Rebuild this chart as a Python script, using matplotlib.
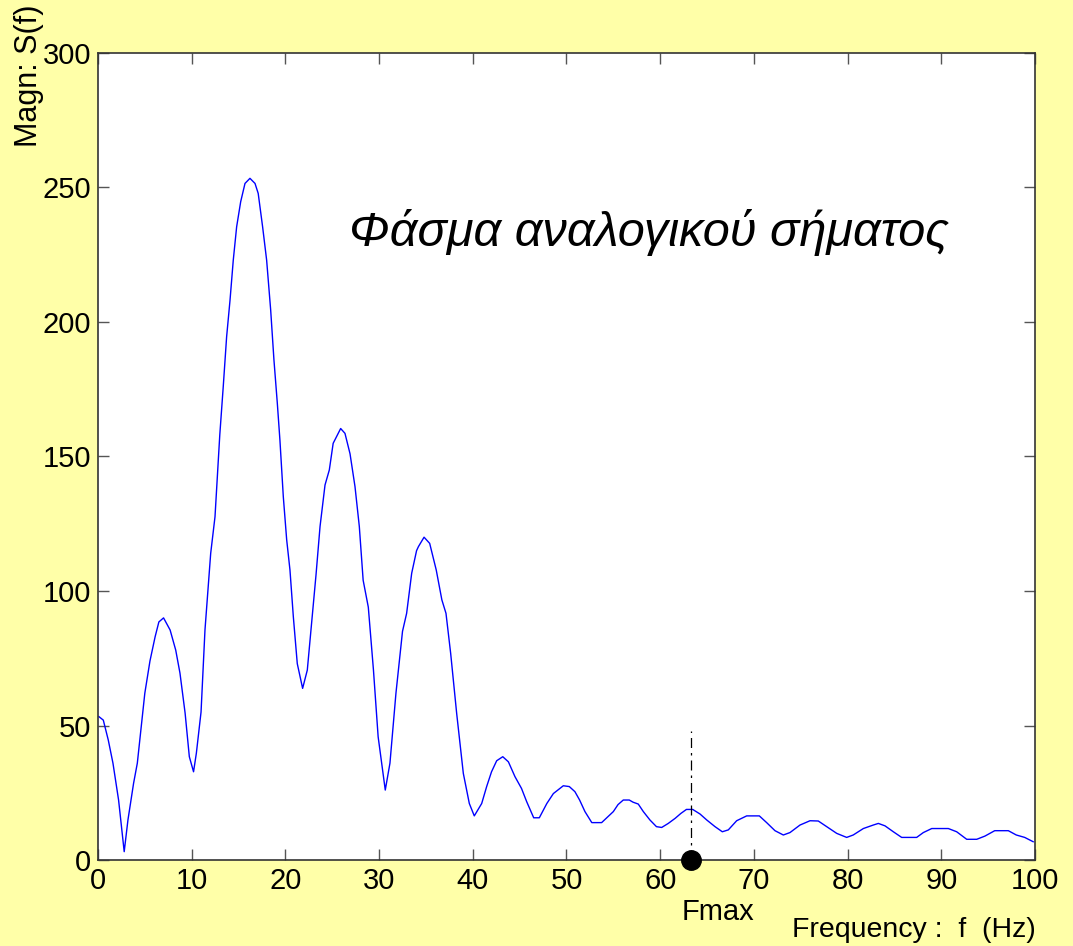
"""Magnitude spectrum of an analog signal with the Fmax marker."""

import matplotlib

matplotlib.use("Agg")
import matplotlib.pyplot as plt

plt.rcParams["font.family"] = ["Liberation Sans", "DejaVu Sans"]

# spectrum samples: frequency (Hz) and magnitude |S(f)|
freq = [
    0.1, 0.57, 1.1, 1.6, 2.2, 2.8, 3.2, 3.8, 4.2, 5.0, 5.55, 6.1, 6.5, 7.0,
    7.7, 8.3, 8.75, 9.3, 9.75, 10.2, 10.5, 11.0, 11.42, 12.03, 12.49, 13.0,
    13.37, 13.73, 14.09, 14.44, 14.8, 15.23, 15.69, 16.22, 16.76, 17.1, 17.57,
    18.0, 18.43, 18.78, 19.14, 19.42, 19.78, 20.14, 20.49, 20.85, 21.27, 21.84,
    22.34, 22.8, 23.27, 23.7, 24.23, 24.69, 25.1, 25.9, 26.36, 26.9, 27.43,
    27.89, 28.3, 28.85, 29.4, 29.9, 30.66, 31.16, 31.8, 32.5, 32.94, 33.48,
    34.0, 34.2, 34.8, 35.4, 36.1, 36.7, 37.14, 37.64, 38.28, 38.99, 39.63,
    40.16, 40.95, 41.48, 42.0, 42.55, 43.2, 43.8, 44.5, 45.2, 45.75, 46.5,
    47.1, 47.9, 48.6, 49.66, 50.3, 50.9, 51.4, 51.97, 52.7, 53.75, 55.0, 55.5,
    56.06, 56.7, 57.1, 57.66, 58.2, 58.9, 59.6, 60.16, 60.86, 61.6, 62.2, 62.8,
    63.47, 64.25, 64.96, 65.85, 66.63, 67.27, 68.16, 69.23, 70.58, 71.36,
    72.25, 73.14, 73.85, 74.92, 75.99, 76.87, 77.77, 78.84, 79.9, 80.6, 81.68,
    82.74, 83.28, 83.99, 84.88, 85.77, 87.37, 88.08, 88.98, 90.75, 91.64,
    92.71, 93.78, 94.66, 95.7, 97.15, 98.0, 98.9, 99.8,
]
magnitude = [
    53.3, 52.0, 44.6, 36.0, 22.3, 3.1, 14.9, 28.5, 36.0, 62.0, 74.0, 83.0, 88.5,
    90.0, 85.5, 78.0, 69.5, 54.6, 38.4, 32.8, 39.7, 55.0, 85.5, 114.0, 127.6,
    158.0, 176.0, 194.5, 208.0, 223.0, 235.4, 244.7, 251.5, 253.4, 251.5,
    247.8, 235.4, 223.0, 204.5, 185.9, 169.8, 156.0, 135.0, 119.0, 107.8,
    90.4, 73.0, 63.8, 70.6, 88.0, 106.0, 124.0, 139.4, 145.0, 154.9, 160.4,
    158.6, 151.0, 138.8, 124.0, 104.0, 94.0, 70.6, 45.8, 26.0, 36.0, 62.0,
    85.0, 91.7, 106.6, 115.0, 116.5, 120.0, 117.7, 107.8, 96.7, 91.7, 76.8,
    54.5, 32.2, 21.0, 16.4, 21.0, 27.3, 32.8, 36.9, 38.4, 36.5, 31.0, 26.6,
    21.7, 15.7, 15.7, 21.0, 24.7, 27.6, 27.3, 25.4, 22.3, 18.0, 13.9, 13.9,
    18.0, 20.6, 22.3, 22.3, 21.5, 20.8, 18.0, 14.9, 12.4, 12.1, 13.6, 15.5,
    17.3, 18.8, 18.8, 17.1, 14.9, 12.4, 10.5, 11.2, 14.6, 16.4, 16.4, 13.9,
    10.9, 9.3, 10.2, 13.0, 14.6, 14.5, 12.4, 9.9, 8.4, 9.3, 11.7, 13.0, 13.6,
    12.7, 10.5, 8.4, 8.4, 10.2, 11.7, 11.7, 10.5, 7.7, 7.7, 8.9, 10.9, 10.9,
    9.3, 8.4, 6.8,
]

fmax = 63.3
fmax_line_top = 48

x_ticks = [0, 10, 20, 30, 40, 50, 60, 70, 80, 90, 100]
y_ticks = [0, 50, 100, 150, 200, 250, 300]

title_text = "Φάσμα αναλογικού σήματος"

fig = plt.figure(figsize=(10.73, 9.46), dpi=100, facecolor="#FFFFA8")
ax = fig.add_axes([0.0913, 0.0909, 0.8733, 0.8531])
ax.set_facecolor("white")

ax.plot(freq, magnitude, color="#0000FF", linewidth=1.0)
ax.plot([fmax, fmax], [0, fmax_line_top], color="black", linewidth=0.9,
        linestyle=(0, (8, 4, 2, 4)))
ax.plot([fmax], [0], marker="o", markersize=14, color="black", clip_on=False,
        zorder=5)

ax.set_xlim(0, 100)
ax.set_ylim(0, 300)
ax.set_xticks(x_ticks)
ax.set_yticks(y_ticks)
ax.tick_params(direction="in", length=8, width=1, color="#555555",
               labelsize=21, top=True, right=True, pad=5)
for spine in ax.spines.values():
    spine.set_color("#333333")
    spine.set_linewidth(1.2)

ax.text(0.268, 0.777, title_text, transform=ax.transAxes, fontsize=35,
        style="italic", ha="left", va="center")

fig.text(0.027, 0.995, "Magn: S(f)", rotation=90, fontsize=22,
         ha="center", va="top")
fig.text(0.965, 0.003, "Frequency :  f  (Hz)", fontsize=20.5,
         ha="right", va="bottom")
ax.text(fmax - 1.0, -0.047, "Fmax", transform=ax.get_xaxis_transform(),
        fontsize=21, ha="left", va="top")

fig.savefig("out.png", dpi=100, facecolor=fig.get_facecolor())
